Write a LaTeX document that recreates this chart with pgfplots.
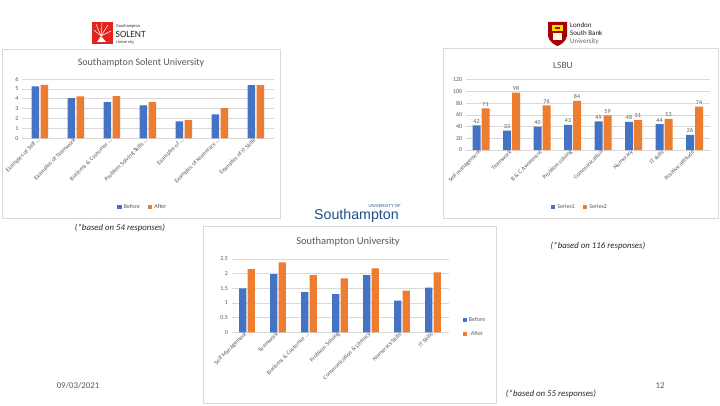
\documentclass[border=0pt]{standalone}
\usepackage{pgfplots}
\pgfplotsset{compat=1.18}
\usepackage{fontspec}
\setmainfont{Carlito}
\newfontfamily\logofont{Liberation Sans}
\definecolor{xblue}{HTML}{4472C4}
\definecolor{xorange}{HTML}{ED7D31}
\definecolor{txt}{HTML}{595959}
\definecolor{gridc}{HTML}{D9D9D9}
\definecolor{sotonblue}{HTML}{1F4E8C}
\definecolor{solentred}{HTML}{E0261C}

\pgfplotsset{
  xlbase/.style={
    scale only axis,
    anchor=south west,
    ybar,
    axis line style={draw=none},
    major tick length=0pt,
    ymajorgrids,
    grid style={gridc, line width=0.6pt},
    tick label style={text=txt, font=\fontsize{6}{7}\selectfont},
    /pgf/number format/assume math mode=true,
    x tick label style={rotate=45, anchor=east, inner sep=1.5pt},
    enlarge x limits=false,
    ymin=0,
    legend style={draw=none, fill=none, font=\fontsize{6}{7}\selectfont, text=txt,
      /tikz/every even column/.append style={column sep=6pt}},
  },
  sqlegend/.style={
    legend image code/.code={\fill[##1] (0pt,-2.2pt) rectangle (4.4pt,2.2pt);},
  },
}

\begin{document}
\begin{tikzpicture}[x=1pt,y=1pt]
\useasboundingbox[fill=white] (0,0) rectangle (720,405);

% chart frames
\draw[gridc, line width=0.6pt] (2,405-49) rectangle (280,405-218);
\draw[gridc, line width=0.6pt] (443,405-48) rectangle (718,405-218);
\draw[gridc, line width=0.6pt] (203,405-226) rectangle (496,405-403);

% ---------- Solent chart ----------
\begin{axis}[xlbase,
  at={(22pt,266.7pt)}, width=252pt, height=59.3pt,
  xmin=-0.5, xmax=6.5, ymax=6, ytick={0,1,...,6},
  xtick={0,...,6},
  xticklabels={Examples of Self …, Examples of Teamwork, Business \& Customer …, Problem Solving Skills …, Examples of …, Examples of Numeracy …, Examples of IT Skills},
  bar width=7.5pt, ybar=1.5pt, sqlegend,
  legend style={at={(axis description cs:0.48,-1.16)}, anchor=center, legend columns=2},
]
\addplot[fill=xblue, draw=none] coordinates {(0,5.25) (1,4.07) (2,3.67) (3,3.33) (4,1.72) (5,2.42) (6,5.38)};
\addplot[fill=xorange, draw=none] coordinates {(0,5.40) (1,4.24) (2,4.27) (3,3.67) (4,1.85) (5,3.06) (6,5.38)};
\legend{Before, After}
\end{axis}

% ---------- LSBU chart ----------
\begin{axis}[xlbase,
  at={(465.75pt,255pt)}, width=244pt, height=70.3pt,
  xmin=-0.5, xmax=7.5, ymax=120, ytick={0,20,...,120},
  xtick={0,...,7},
  xticklabels={Self management, Teamwork, B \& C Awareness, Problem solving, Communication, Numeracy, IT skills, Positive attitude},
  bar width=8pt, ybar=1pt, sqlegend,
  nodes near coords,
  every node near coord/.append style={font=\fontsize{6}{7}\selectfont, text=txt, inner sep=2pt},
  legend style={at={(axis description cs:0.468,-0.81)}, anchor=center, legend columns=2},
]
\addplot[fill=xblue, draw=none] coordinates {(0,42) (1,33) (2,40) (3,43) (4,49) (5,48) (6,44) (7,26)};
\addplot[fill=xorange, draw=none] coordinates {(0,71) (1,98) (2,76) (3,84) (4,59) (5,51) (6,53) (7,74)};
\legend{Series1, Series2}
\end{axis}

% ---------- Southampton chart ----------
\begin{axis}[xlbase,
  at={(231.5pt,72.7pt)}, width=217pt, height=73.4pt,
  xmin=-0.5, xmax=6.5, ymax=2.5, ytick={0,0.5,...,2.5},
  xtick={0,...,6},
  xticklabels={Self Management, Teamwork, Business \& Customer …, Problem Solving, Communication \& Literacy, Numeracy Skills, IT Skills},
  bar width=7.3pt, ybar=1.3pt, sqlegend,
  legend style={at={(axis description cs:1.05,0.072)}, anchor=west, legend columns=1, row sep=4pt},
]
\addplot[fill=xblue, draw=none] coordinates {(0,1.50) (1,1.98) (2,1.37) (3,1.30) (4,1.95) (5,1.08) (6,1.52)};
\addplot[fill=xorange, draw=none] coordinates {(0,2.15) (1,2.38) (2,1.95) (3,1.84) (4,2.18) (5,1.42) (6,2.04)};
\legend{Before, After}
\end{axis}

% titles
\node[text=txt, font=\fontsize{10}{12}\selectfont] at (141,405-63) {Southampton Solent University};
\node[text=txt, font=\fontsize{9.5}{11}\selectfont] at (563,405-65) {LSBU};
\node[text=txt, font=\fontsize{10.5}{12}\selectfont] at (348,405-242) {Southampton University};

% notes
\node[text=black!85, font=\itshape\fontsize{8.8}{10}\selectfont] at (120,405-228) {(*based on 54 responses)};
\node[text=black!85, font=\itshape\fontsize{8.8}{10}\selectfont] at (598,405-245.5) {(*based on 116 responses)};
\node[text=black!85, font=\itshape\fontsize{8.8}{10}\selectfont] at (551,405-394) {(*based on 55 responses)};
\node[text=txt, font=\fontsize{8.8}{10}\selectfont] at (78,405-386) {09/03/2021};
\node[text=txt, font=\fontsize{8.8}{10}\selectfont] at (660,405-386) {12};

% Solent logo
\fill[solentred] (92,405-44) rectangle (113,405-22);
\draw[white, line width=0.5pt] (101,405-36) -- (96,405-24) (101,405-36) -- (102,405-23) (101,405-36) -- (108,405-25)
  (101,405-36) -- (94,405-30) (101,405-36) -- (111,405-31);
\fill[white] (97,405-42) -- (101,405-36) -- (106,405-42) -- cycle;
\node[anchor=west, inner sep=0pt, font=\logofont\fontsize{4}{4}\selectfont, text=black!80] at (116,405-26.5) {Southampton};
\node[anchor=west, inner sep=0pt, font=\fontsize{9.5}{10}\selectfont, text=black!85] at (115.5,405-34.5) {SOLENT};
\node[anchor=west, inner sep=0pt, font=\logofont\fontsize{4}{4}\selectfont, text=black!80] at (116,405-42.5) {University};

% LSBU logo
\fill[red!65!black] (548,405-22) -- (567,405-22) -- (567,405-36) .. controls (566,405-42) and (560,405-45) .. (557.5,405-46)
  .. controls (555,405-45) and (549,405-42) .. (548,405-36) -- cycle;
\fill[yellow!80!orange] (552,405-25) rectangle (563,405-31);
\fill[white!90!yellow] (553,405-33) rectangle (562,405-40);
\fill[red!80!black] (555,405-27) rectangle (560,405-29);
\node[anchor=west, inner sep=0pt, font=\fontsize{7}{8}\selectfont, text=black!90] at (570,405-25.5) {London};
\node[anchor=west, inner sep=0pt, font=\fontsize{7}{8}\selectfont, text=black!90] at (570,405-33.5) {South Bank};
\node[anchor=west, inner sep=0pt, font=\fontsize{7}{8}\selectfont, text=black!60] at (570,405-41.5) {University};

% Southampton logo
\node[anchor=east, inner sep=0pt, font=\logofont\fontsize{4.2}{4.5}\selectfont, text=sotonblue] at (401,405-206) {UNIVERSITY OF};
\node[anchor=west, inner sep=0pt, font=\logofont\fontsize{14.2}{15}\selectfont, text=sotonblue] at (314,405-215.5) {Southampton};
\end{tikzpicture}
\end{document}
